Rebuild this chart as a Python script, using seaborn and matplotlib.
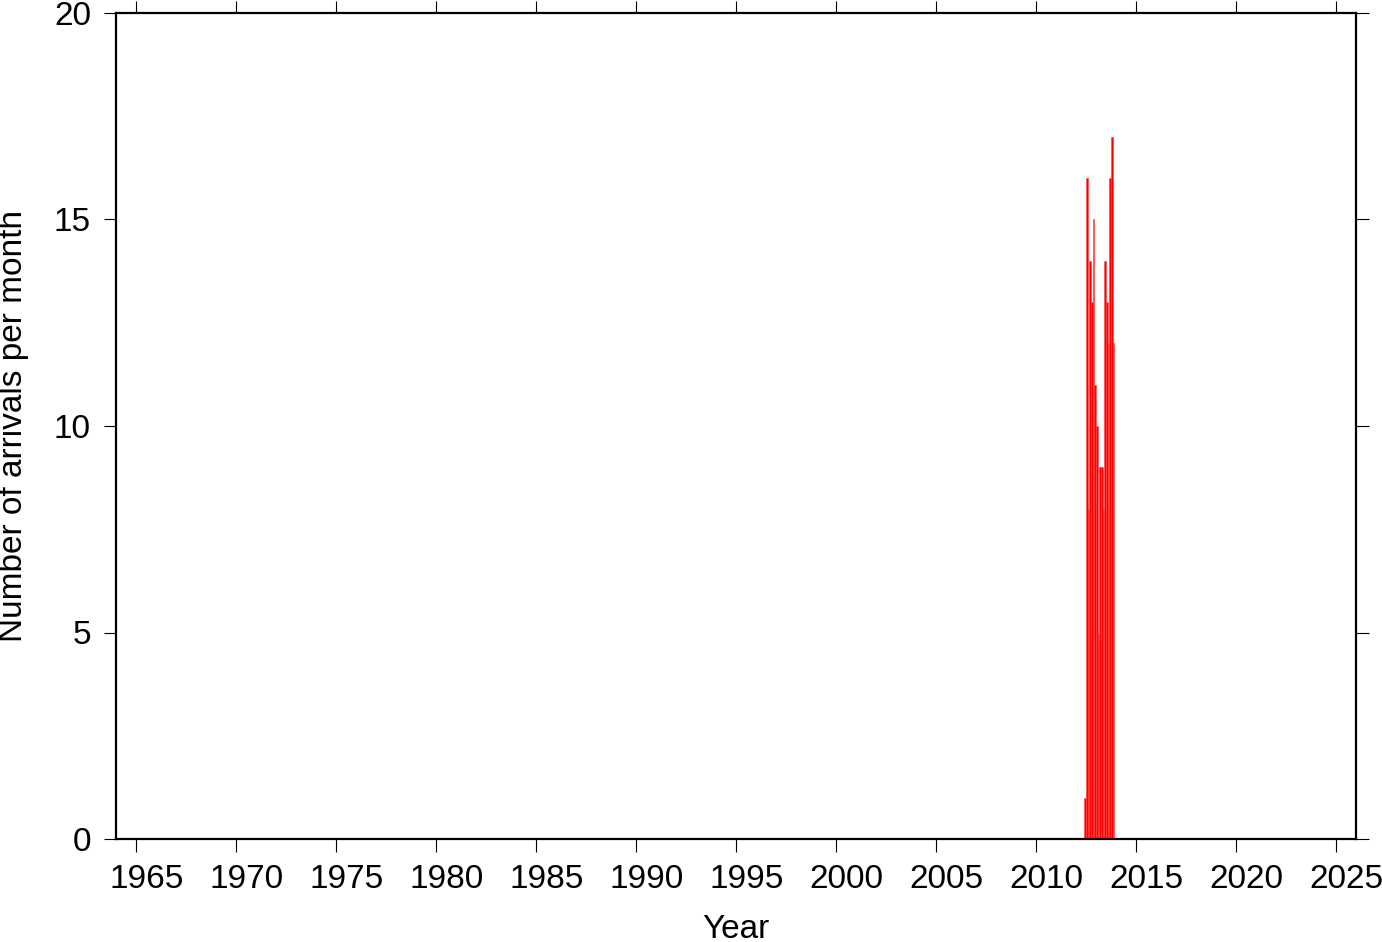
import numpy as np
import pandas as pd
import matplotlib
matplotlib.use("Agg")
import matplotlib.pyplot as plt
import matplotlib.transforms as mtransforms
import seaborn as sns

# Monthly arrival counts
months = ["2012-06", "2012-07", "2012-08", "2012-09", "2012-10", "2012-11",
          "2012-12", "2013-01", "2013-02", "2013-03", "2013-04", "2013-05",
          "2013-06", "2013-07", "2013-08", "2013-09", "2013-10", "2013-11"]
counts = [1, 16, 8, 14, 13, 15, 11, 10, 5, 9, 9, 8, 14, 13, 12, 16, 17, 12]
x_ticks = [1965, 1970, 1975, 1980, 1985, 1990, 1995, 2000, 2005, 2010, 2015, 2020, 2025]
y_ticks = [0, 5, 10, 15, 20]

sns.set_style("ticks")
plt.rcParams['font.family'] = ['Liberation Sans', 'DejaVu Sans']

dt = pd.to_datetime(months)
dec = np.asarray(dt.year + (dt.month - 1) / 12.0 + 1 / 24.0, dtype=float)
df = pd.DataFrame({"year": dec, "count": np.asarray(counts, dtype=float)})

fig = plt.figure(figsize=(13.82, 9.42), dpi=100)
ax = fig.add_axes([116 / 1382, 1 - 839 / 942, 1240 / 1382, 826 / 942])

start = 2012 + 5 / 12
sns.histplot(data=df, x="year", weights="count", binwidth=1 / 12,
             binrange=(start, start + len(months) / 12), ax=ax,
             color="#ff0000", alpha=1.0, edgecolor="#ff4040", linewidth=0.4)

ax.set_xlim(1964, 2026)
ax.set_ylim(0, 20)
ax.set_xticks(x_ticks)
ax.set_yticks(y_ticks)
ax.tick_params(axis="both", direction="out", length=9, width=0.8,
               labelsize=24, pad=9, top=True, right=True,
               labeltop=False, labelright=False, colors="black",
               labelcolor="black")
for s in ax.spines.values():
    s.set_linewidth(1.6)
    s.set_color("black")
    s.set_visible(True)
ax.set_xlabel("Year", fontsize=24, labelpad=14, color="black")
ax.set_ylabel("Number of arrivals per month", fontsize=24, labelpad=18, color="black")

# x tick labels sit slightly right of their ticks in the reference
offset = mtransforms.ScaledTranslation(0.105, 0, fig.dpi_scale_trans)
for lbl in ax.get_xticklabels():
    lbl.set_transform(lbl.get_transform() + offset)

fig.savefig("out.png", dpi=100)
